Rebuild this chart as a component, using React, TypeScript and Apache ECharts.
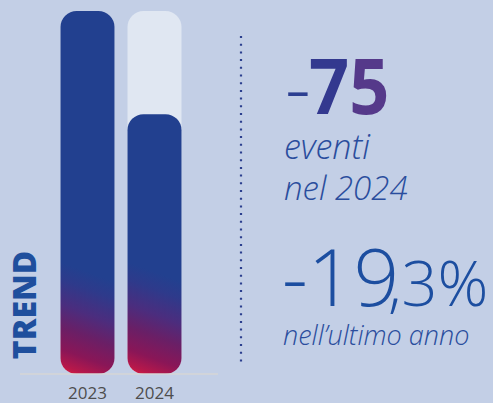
import React, { useEffect, useRef } from "react";
import * as echarts from "echarts";

const categories = ["2023", "2024"];
const events = [389, 314];
const deltaSign = "-";
const deltaEvents = ["7", "5"];
const deltaCaption = ["eventi", "nel 2024"];
const pctMain = "-19";
const pctTail = ",3%";
const pctCaption = "nell\u2019ultimo anno";
const sideTitle = "TREND";

const Y_MIN = 125;
const Y_MAX = 389;
const BAR_W = 54;
const FONT = "'Open Sans', 'Noto Sans', sans-serif";

const stops = [
  { offset: 0, color: "#e8213b" },
  { offset: 0.07, color: "#b8184a" },
  { offset: 0.2, color: "#8a1657" },
  { offset: 0.38, color: "#6a1f66" },
  { offset: 0.56, color: "#4b2d7e" },
  { offset: 0.76, color: "#2e3a8b" },
  { offset: 0.9, color: "#22408f" },
  { offset: 1, color: "#22408f" },
];

export default function App() {
  const ref = useRef<HTMLDivElement>(null);
  useEffect(() => {
    document.body.style.margin = "0";
    if (!ref.current) return;
    const chart = echarts.init(ref.current, null, { renderer: "svg" });
    const txt = (
      x: number,
      y: number,
      text: string,
      fill: string,
      font: string,
      lineHeight: number,
      extra: any = {}
    ) => ({
      type: "text",
      x,
      y,
      ...extra,
      style: { text, fill, font, lineHeight, align: "left", verticalAlign: "middle" },
    });
    const base: any = {
      animation: false,
      backgroundColor: "#c3cfe6",
      grid: { left: 54, right: 305, top: 11, bottom: 29 },
      xAxis: {
        type: "category",
        data: categories,
        axisLine: { show: false },
        axisTick: { show: false },
        axisLabel: { color: "#4d4d4d", fontSize: 17, fontFamily: FONT, margin: 10 },
      },
      yAxis: { type: "value", min: Y_MIN, max: Y_MAX, show: false },
      series: [
        {
          type: "bar",
          barWidth: BAR_W,
          data: events,
          itemStyle: { color: "#22408f", borderRadius: 16 },
          showBackground: true,
          backgroundStyle: { color: "#e0e7f2", borderRadius: 16 },
        },
      ],
      graphic: [
        {
          type: "line",
          shape: { x1: 20, y1: 374, x2: 218, y2: 374 },
          style: { stroke: "#d6d6d6", lineWidth: 1.5 },
          z: 10,
        },
        {
          type: "line",
          shape: { x1: 241, y1: 36, x2: 241, y2: 366 },
          style: { stroke: "#2b3f8e", lineWidth: 2.2, lineDash: [2, 5.7] },
        },
        {
          type: "text",
          x: 23,
          y: 305,
          rotation: Math.PI / 2,
          style: {
            text: sideTitle,
            fill: "#1f4f9d",
            font: `800 32px ${FONT}`,
            lineHeight: 26,
            align: "center",
            verticalAlign: "middle",
          },
        },
        txt(285, 84, deltaSign, "#2c3f91", `300 80px ${FONT}`, 60),
        {
          type: "text",
          x: 309,
          y: 84,
          scaleX: 0.9,
          style: {
            text: `{a|${deltaEvents[0]}}{b|${deltaEvents[1]}}`,
            rich: {
              a: { fill: "#33398f", font: `bold 78px ${FONT}`, lineHeight: 60 },
              b: { fill: "#55398a", font: `bold 78px ${FONT}`, lineHeight: 60 },
            },
            font: `bold 78px ${FONT}`,
            lineHeight: 60,
            align: "left",
            verticalAlign: "middle",
          },
        },
        txt(284, 146, deltaCaption[0], "#2a4d9d", `italic 300 34px ${FONT}`, 30),
        txt(284, 187, deltaCaption[1], "#2a4d9d", `italic 300 33px ${FONT}`, 30),
        txt(282, 274, pctMain, "#1c4ea0", `300 80px ${FONT}`, 60),
        txt(388, 281, pctTail, "#1c4ea0", `300 63px ${FONT}`, 46),
        txt(283, 334, pctCaption, "#2a4d9d", `italic 300 27px ${FONT}`, 24),
      ],
    };
    chart.setOption(base);
    const bottom = chart.convertToPixel({ yAxisIndex: 0 }, Y_MIN) as number;
    const data = events.map((v, i) => {
      const cx = chart.convertToPixel({ xAxisIndex: 0 }, i) as number;
      const x0 = cx - BAR_W / 2;
      return {
        value: v,
        itemStyle: {
          color: new echarts.graphic.LinearGradient(
            x0,
            bottom,
            x0 + 40,
            bottom - 110,
            stops,
            true
          ),
          borderRadius: 16,
        },
      };
    });
    chart.setOption({ series: [{ data }] });
    return () => chart.dispose();
  }, []);
  return <div ref={ref} style={{ width: 493, height: 403 }} />;
}
